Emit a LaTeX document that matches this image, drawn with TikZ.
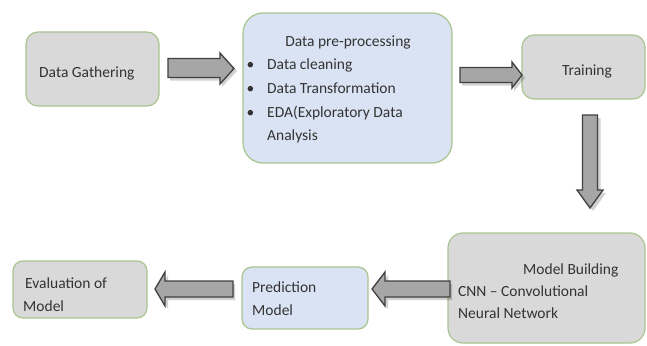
\documentclass[tikz,border=0pt]{standalone}
\usepackage{fontspec}
\setmainfont{Carlito}
\begin{document}
\begin{tikzpicture}[x=1pt,y=-1pt,
  boxgray/.style={draw=boxline,line width=1.2pt,fill=fillgray,rounded corners=#1},
  boxblue/.style={draw=boxline,line width=1.2pt,fill=fillblue,rounded corners=#1},
  txt/.style={inner sep=0pt,anchor=base west,text=txtcol,font=\fontsize{15.5}{18}\selectfont},
  blockarrow/.style={draw=arrline,line width=1.3pt,fill=arrfill,line join=miter},
  arrshadow/.style={fill=black,opacity=0.18},
]
\definecolor{boxline}{HTML}{A9C48E}
\definecolor{fillgray}{HTML}{D9D9D9}
\definecolor{fillblue}{HTML}{DAE3F3}
\definecolor{txtcol}{HTML}{333333}
\definecolor{arrline}{HTML}{404040}
\definecolor{arrfill}{HTML}{A6A6A6}
\useasboundingbox (0,0) rectangle (647,345);
\fill[white] (0,0) rectangle (647,345);

% boxes
\draw[boxgray=12pt] (26,32) rectangle (159,106);
\node[inner sep=0pt,minimum width=133pt,minimum height=74pt] (gather) at (92.5,69) {};
\draw[boxblue=20pt] (243,13) rectangle (452,163);
\node[inner sep=0pt,minimum width=209pt,minimum height=150pt] (prep) at (347.5,88) {};
\draw[boxgray=12pt] (522,35) rectangle (645,99);
\node[inner sep=0pt,minimum width=123pt,minimum height=64pt] (train) at (583.5,67) {};
\draw[boxgray=15pt] (448,233) rectangle (645,343);
\node[inner sep=0pt,minimum width=197pt,minimum height=110pt] (build) at (546.5,288) {};
\draw[boxblue=10pt] (242,267) rectangle (368,329);
\node[inner sep=0pt,minimum width=126pt,minimum height=62pt] (pred) at (305,298) {};
\draw[boxgray=10pt] (13,261) rectangle (147,318);
\node[inner sep=0pt,minimum width=134pt,minimum height=57pt] (eval) at (80,289.5) {};

% texts
\node[txt] (t1) at (39,77) {Data Gathering};
\node[txt,anchor=base] (t2) at (348,47) {Data pre-processing};
\node[txt] (b1) at (246.5,70) {\textbullet};
\node[txt] (t3) at (267,70) {Data cleaning};
\node[txt] (b2) at (246.5,93) {\textbullet};
\node[txt] (t4) at (267,93) {Data Transformation};
\node[txt] (b3) at (246.5,117) {\textbullet};
\node[txt] (t5) at (267,117) {EDA(Exploratory Data};
\node[txt] (t6) at (267,140) {Analysis};
\node[txt,anchor=base] (t7) at (587,75) {Training};
\node[txt] (t8) at (523,274) {Model Building};
\node[txt] (t9) at (458,296) {CNN -- Convolutional};
\node[txt] (t10) at (458,318) {Neural Network};
\node[txt] (t11) at (252,292) {Prediction};
\node[txt] (t12) at (252,315) {Model};
\node[txt] (t13) at (25,288) {Evaluation of};
\node[txt] (t14) at (23,311) {Model};

% block arrows (gather -> prep)
\coordinate (a1) at (168,68);
\fill[arrshadow] (170,61.5) -- (222,61.5) -- (222,56) -- (237,71) -- (222,87) -- (222,80.5) -- (170,80.5) -- cycle;
\draw[blockarrow] (a1) ++(0,-9.5) -- (220,58.5) -- (220,53) -- (234,68.5) -- (220,84) -- (220,77.5) -- (168,77.5) -- cycle;
% prep -> train
\fill[arrshadow] (462,70.5) -- (514,70.5) -- (514,65) -- (525,78) -- (514,91) -- (514,85.5) -- (462,85.5) -- cycle;
\draw[blockarrow] (460,67.5) -- (512,67.5) -- (512,62) -- (522,75) -- (512,88) -- (512,82.5) -- (460,82.5) -- cycle;
% train -> build
\fill[arrshadow] (585.5,118) -- (600.5,118) -- (600.5,193) -- (606,193) -- (593,211) -- (580,193) -- (585.5,193) -- cycle;
\draw[blockarrow] (582.5,115) -- (597.5,115) -- (597.5,190) -- (603,190) -- (590,208) -- (577,190) -- (582.5,190) -- cycle;
% build -> pred
\fill[arrshadow] (452,284) -- (388,284) -- (388,275) -- (375,292) -- (388,309) -- (388,300) -- (452,300) -- cycle;
\draw[blockarrow] (450,281) -- (385,281) -- (385,272) -- (372,289) -- (385,306) -- (385,297) -- (450,297) -- cycle;
% pred -> eval
\fill[arrshadow] (235,284) -- (168,284) -- (168,275) -- (158,292) -- (168,309) -- (168,300) -- (235,300) -- cycle;
\draw[blockarrow] (233,281) -- (165,281) -- (165,272) -- (155,289) -- (165,306) -- (165,297) -- (233,297) -- cycle;
\end{tikzpicture}
\end{document}
